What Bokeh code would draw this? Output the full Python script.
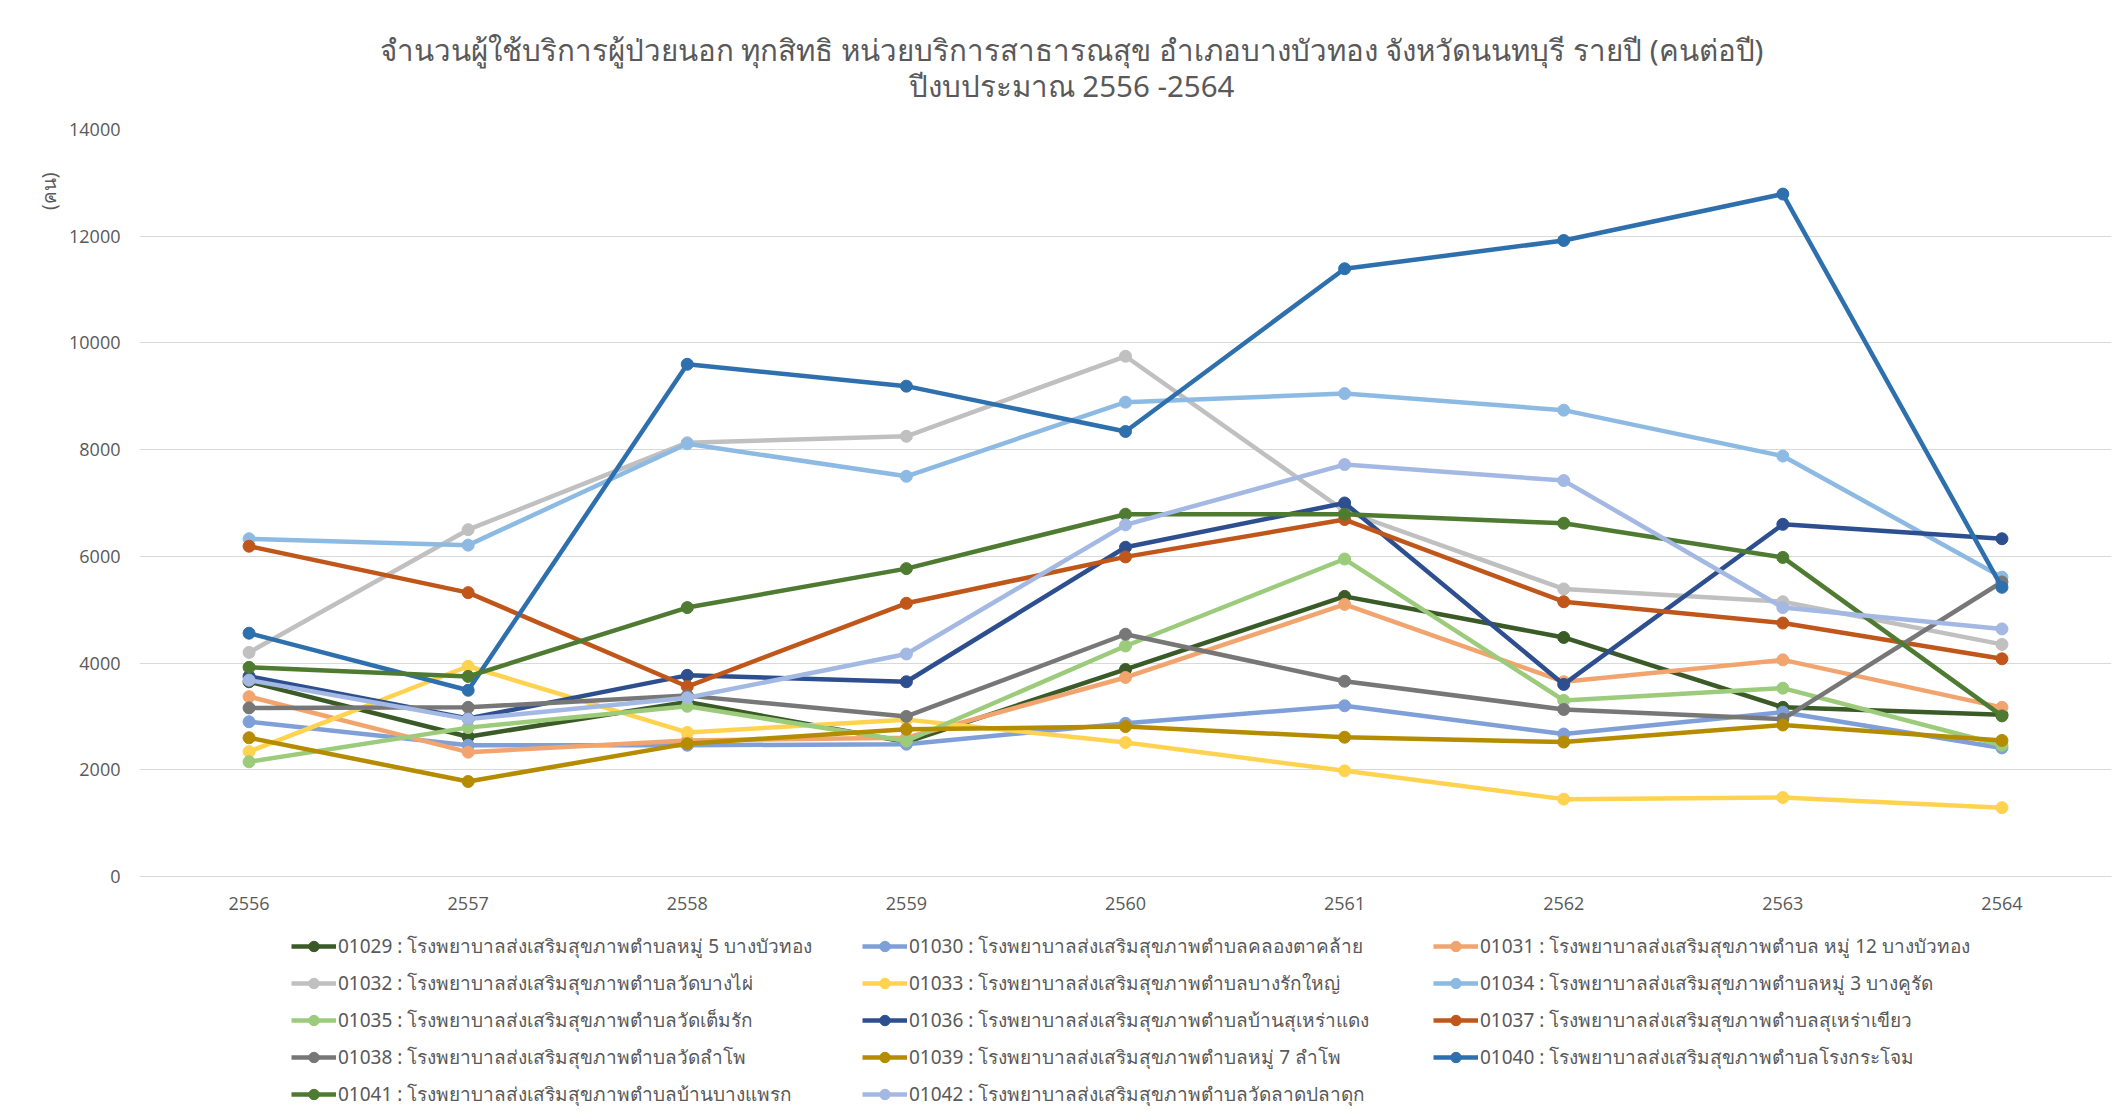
from bokeh.plotting import figure
from bokeh.layouts import column
from bokeh.models import (FactorRange, Range1d, Legend, LegendItem, Title,
                          Label, SingleIntervalTicker)
from bokeh.embed import file_html
from bokeh.resources import INLINE

# ---------------- data ----------------
years = ["2556", "2557", "2558", "2559", "2560", "2561", "2562", "2563", "2564"]

title_line1 = "จำนวนผู้ใช้บริการผู้ป่วยนอก ทุกสิทธิ หน่วยบริการสาธารณสุข อำเภอบางบัวทอง จังหวัดนนทบุรี รายปี (คนต่อปี)"
title_line2 = "ปีงบประมาณ 2556 -2564"
y_label = "(คน)"

names = [
    "01029 : โรงพยาบาลส่งเสริมสุขภาพตำบลหมู่ 5 บางบัวทอง",
    "01030 : โรงพยาบาลส่งเสริมสุขภาพตำบลคลองตาคล้าย",
    "01031 : โรงพยาบาลส่งเสริมสุขภาพตำบล หมู่ 12 บางบัวทอง",
    "01032 : โรงพยาบาลส่งเสริมสุขภาพตำบลวัดบางไผ่",
    "01033 : โรงพยาบาลส่งเสริมสุขภาพตำบลบางรักใหญ่",
    "01034 : โรงพยาบาลส่งเสริมสุขภาพตำบลหมู่ 3 บางคูรัด",
    "01035 : โรงพยาบาลส่งเสริมสุขภาพตำบลวัดเต็มรัก",
    "01036 : โรงพยาบาลส่งเสริมสุขภาพตำบลบ้านสุเหร่าแดง",
    "01037 : โรงพยาบาลส่งเสริมสุขภาพตำบลสุเหร่าเขียว",
    "01038 : โรงพยาบาลส่งเสริมสุขภาพตำบลวัดลำโพ",
    "01039 : โรงพยาบาลส่งเสริมสุขภาพตำบลหมู่ 7 ลำโพ",
    "01040 : โรงพยาบาลส่งเสริมสุขภาพตำบลโรงกระโจม",
    "01041 : โรงพยาบาลส่งเสริมสุขภาพตำบลบ้านบางแพรก",
    "01042 : โรงพยาบาลส่งเสริมสุขภาพตำบลวัดลาดปลาดุก",
]

s01029 = [3650, 2620, 3270, 2520, 3880, 5250, 4480, 3170, 3030]
s01030 = [2900, 2460, 2460, 2480, 2870, 3200, 2670, 3080, 2410]
s01031 = [3370, 2330, 2550, 2600, 3730, 5100, 3650, 4060, 3170]
s01032 = [4200, 6500, 8130, 8250, 9750, 6850, 5390, 5150, 4350]
s01033 = [2340, 3940, 2700, 2940, 2510, 1980, 1450, 1480, 1290]
s01034 = [6330, 6210, 8110, 7500, 8890, 9050, 8740, 7880, 5610]
s01035 = [2150, 2790, 3190, 2540, 4320, 5950, 3300, 3530, 2460]
s01036 = [3750, 2960, 3770, 3650, 6170, 7000, 3600, 6600, 6330]
s01037 = [6190, 5320, 3560, 5120, 5990, 6690, 5150, 4750, 4080]
s01038 = [3160, 3170, 3390, 3000, 4540, 3660, 3130, 2950, 5520]
s01039 = [2600, 1780, 2490, 2760, 2810, 2610, 2520, 2840, 2550]
s01040 = [4560, 3490, 9600, 9190, 8340, 11390, 11920, 12790, 5420]
s01041 = [3920, 3750, 5040, 5770, 6790, 6790, 6620, 5980, 3010]
s01042 = [3680, 2950, 3350, 4170, 6590, 7720, 7420, 5040, 4640]

series = [s01029, s01030, s01031, s01032, s01033, s01034, s01035,
          s01036, s01037, s01038, s01039, s01040, s01041, s01042]

colors = ["#3A5A27", "#7F9FD8", "#F2A46F", "#C0C0C0", "#FFD34F", "#8DBAE3",
          "#9CCB7B", "#2E4F8F", "#C0561A", "#777777", "#B58C00", "#2E70AD",
          "#4E7B31", "#A3B8E3"]

FONT = "Open Sans"
TXT = "#595959"
W = 2120


def blank_strip(height, x_range, y_range):
    f = figure(width=W, height=height, x_range=x_range, y_range=y_range,
               x_axis_type=None, y_axis_type=None, min_border=0,
               output_backend="svg", toolbar_location=None)
    f.grid.visible = False
    f.outline_line_color = None
    f.background_fill_color = "white"
    f.border_fill_color = "white"
    return f


# ---------------- title strip ----------------
p0 = blank_strip(110, Range1d(0, 1), Range1d(0, 1))
p0.add_layout(Label(x=932, y=61, x_units="screen", y_units="screen",
                    text=title_line1, text_align="center",
                    text_baseline="middle", text_font="Noto Sans",
                    text_font_size="29.5px", text_color=TXT))
p0.add_layout(Label(x=932, y=25, x_units="screen", y_units="screen",
                    text=title_line2, text_align="center",
                    text_baseline="middle", text_font="Noto Sans",
                    text_font_size="29.5px", text_color=TXT))

# ---------------- main chart ----------------
p = figure(x_range=FactorRange(*years, range_padding=0),
           y_range=Range1d(0, 14000),
           width=W, height=810,
           min_border_left=139, min_border_right=9, min_border_top=19,
           min_border_bottom=44,
           output_backend="svg", toolbar_location=None)
p.background_fill_color = "white"
p.border_fill_color = "white"
p.outline_line_color = None

p.yaxis.ticker = SingleIntervalTicker(interval=2000)
p.ygrid.grid_line_color = "#D9D9D9"
p.ygrid.grid_line_width = 1
p.xgrid.grid_line_color = None
p.yaxis.axis_line_color = None
p.yaxis.major_tick_line_color = None
p.yaxis.minor_tick_line_color = None
p.yaxis.major_label_standoff = 13
p.xaxis.axis_line_color = "#D9D9D9"
p.xaxis.major_tick_line_color = None
p.xaxis.minor_tick_line_color = None
p.xaxis.major_label_standoff = 14
for ax in (p.xaxis, p.yaxis):
    ax.major_label_text_font = FONT
    ax.major_label_text_font_size = "18px"
    ax.major_label_text_color = TXT

for vals, c in zip(series, colors):
    p.line(years, vals, line_color=c, line_width=4.5)
    p.scatter(years, vals, size=12, fill_color=c, line_color=c)

p.add_layout(Title(text=y_label, align="right", offset=43,
                   text_font="Noto Sans", text_font_size="19px",
                   text_color=TXT, text_font_style="normal"), "left")

# ---------------- legend strip ----------------
# The legend's own renderers reuse the series but sit far outside this
# strip's visible y-range, so only their legend glyphs are drawn.
p2 = blank_strip(196, p.x_range, Range1d(100000, 100001))

items = []
for name, vals, c in zip(names, series, colors):
    r1 = p2.line(years, vals, line_color=c, line_width=4.5)
    r2 = p2.scatter(years, vals, size=12, fill_color=c, line_color=c)
    items.append(LegendItem(label=name, renderers=[r1, r2]))

legend = Legend(items=items, orientation="horizontal", ncols=3,
                location=(152, 4))
legend.label_text_font = "Noto Sans"
legend.label_text_font_size = "19px"
legend.label_text_color = TXT
legend.glyph_width = 45
legend.glyph_height = 26
legend.label_width = 524
legend.label_height = 37
legend.label_standoff = 2
legend.spacing = 0
legend.padding = 0
legend.margin = 0
legend.border_line_color = None
legend.background_fill_alpha = 0
p2.add_layout(legend)

page = column(p0, p, p2, spacing=0)
open("out.html", "w").write(file_html(page, INLINE))
